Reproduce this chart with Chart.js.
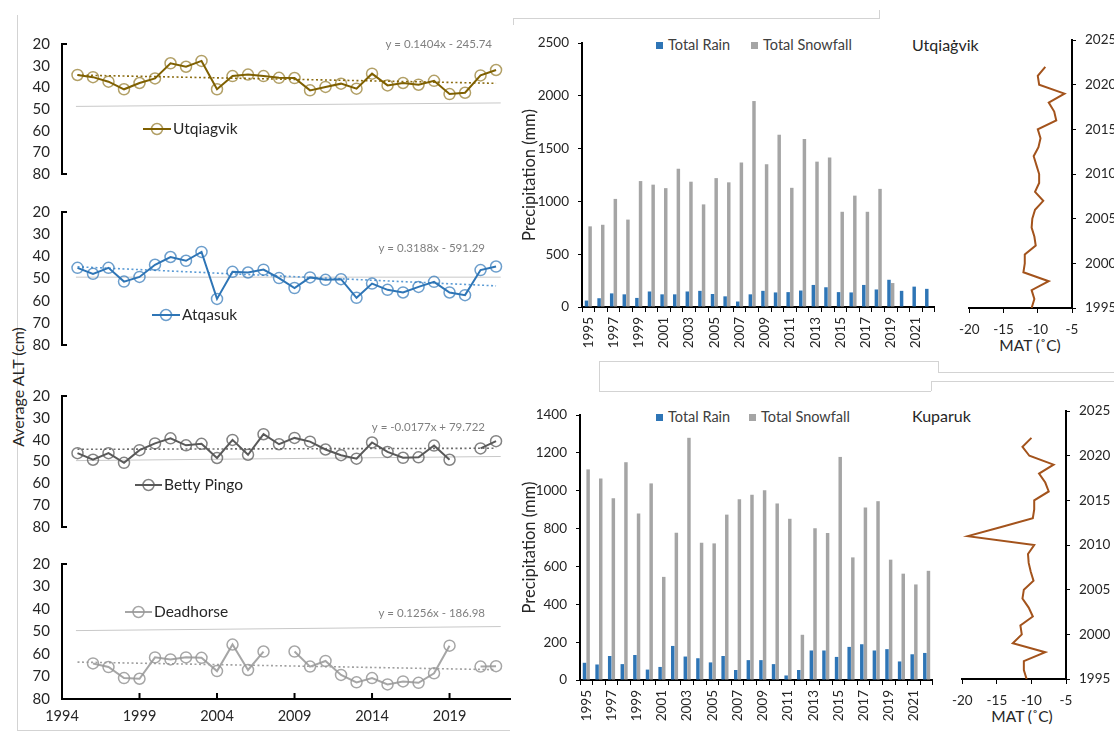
<!DOCTYPE html>
<html lang="en">
<head>
<meta charset="utf-8">
<title>Active layer thickness, precipitation and mean annual temperature</title>
<script src="https://cdn.jsdelivr.net/npm/chart.js@4.4.1/dist/chart.umd.min.js"></script>
<style>
  html, body { margin: 0; padding: 0; background: #fff; }
  body { position: relative; width: 1114px; height: 733px; overflow: hidden;
         font-family: Lato, "Open Sans", sans-serif; color: #404040; }
  canvas { position: absolute; }
  .rule { position: absolute; background: #d3d3d3; }
  .txt { position: absolute; white-space: nowrap; line-height: 1; transform: translateY(-50%); }
  .ctr { position: absolute; white-space: nowrap; line-height: 1; transform: translate(-50%, -50%); }
  .sw { position: absolute; width: 7px; height: 7px; }
</style>
</head>
<body>

<!-- panel frames -->
<div class="rule" style="left:17px;top:15px;width:1px;height:715px"></div>
<div class="rule" style="left:17px;top:730px;width:493px;height:1px"></div>
<div class="rule" style="left:513px;top:18px;width:366px;height:1px"></div>
<div class="rule" style="left:879px;top:10px;width:1px;height:9px"></div>
<div class="rule" style="left:513px;top:18px;width:1px;height:7px"></div>
<div class="rule" style="left:599px;top:361px;width:339px;height:1px"></div>
<div class="rule" style="left:599px;top:361px;width:1px;height:30px"></div>
<div class="rule" style="left:599px;top:391px;width:332px;height:1px"></div>
<div class="rule" style="left:938px;top:361px;width:1px;height:11px"></div>
<div class="rule" style="left:938px;top:372px;width:176px;height:1px"></div>
<div class="rule" style="left:931px;top:381px;width:1px;height:10px"></div>
<div class="rule" style="left:931px;top:381px;width:183px;height:1px"></div>

<!-- shared axis title of the ALT stack -->
<div class="ctr" style="left:18px;top:387px;font-size:16px;color:#262626;transform:translate(-50%,-50%) rotate(-90deg)">Average ALT (cm)</div>

<!-- precipitation keys and station names -->
<div class="sw" style="left:656px;top:42px;background:#2e75b6"></div>
<div class="txt" style="left:668px;top:45px;font-size:14.5px">Total Rain</div>
<div class="sw" style="left:751px;top:42px;background:#a5a5a5"></div>
<div class="txt" style="left:763px;top:45px;font-size:14.5px">Total Snowfall</div>
<div class="txt" style="left:912px;top:45px;font-size:16px;color:#262626">Utqiaġvik</div>

<div class="sw" style="left:656px;top:414px;background:#2e75b6"></div>
<div class="txt" style="left:668px;top:417px;font-size:14.5px">Total Rain</div>
<div class="sw" style="left:749px;top:414px;background:#a5a5a5"></div>
<div class="txt" style="left:761px;top:417px;font-size:14.5px">Total Snowfall</div>
<div class="txt" style="left:912px;top:416px;font-size:16px;color:#262626">Kuparuk</div>

<!-- temperature axis titles -->
<div class="ctr" style="left:1030px;top:346px;font-size:15.5px;color:#262626">MAT (˚C)</div>
<div class="ctr" style="left:1022px;top:717px;font-size:15.5px;color:#262626">MAT (˚C)</div>

<script>
// ---- data ----
const years = [1995, 1996, 1997, 1998, 1999, 2000, 2001, 2002, 2003, 2004, 2005, 2006, 2007, 2008,
               2009, 2010, 2011, 2012, 2013, 2014, 2015, 2016, 2017, 2018, 2019, 2020, 2021, 2022];
const precipYears = ['1995', '1996', '1997', '1998', '1999', '2000', '2001', '2002', '2003', '2004',
                     '2005', '2006', '2007', '2008', '2009', '2010', '2011', '2012', '2013', '2014',
                     '2015', '2016', '2017', '2018', '2019', '2020', '2021', '2022'];

// average active layer thickness (cm)
const altUtqiagvik = [34.3, 35.3, 37.4, 40.9, 38.0, 35.9, 28.9, 30.5, 27.8, 40.9, 34.8, 34.1, 34.8, 35.6,
                      35.7, 41.4, 39.8, 38.3, 40.6, 33.7, 39.1, 38.0, 38.8, 37.0, 43.1, 42.5, 34.5, 32.0];
const altAtqasuk = [45.2, 47.9, 45.2, 51.4, 49.3, 43.8, 40.3, 42.0, 38.0, 59.2, 47.0, 47.3, 46.0, 49.8,
                    54.3, 49.5, 50.6, 50.3, 58.7, 52.3, 55.1, 56.3, 53.8, 51.5, 56.3, 57.5, 46.2, 44.6];
const altBettyPingo = [46.2, 49.2, 46.2, 50.6, 44.8, 41.7, 39.4, 42.6, 41.9, 48.4, 40.1, 46.9, 37.5, 42.1,
                       39.2, 40.9, 44.5, 47.1, 48.7, 41.3, 45.6, 48.3, 48.1, 42.7, 49.2, null, 44.0, 40.7];
const altDeadhorse = [null, 64.2, 65.8, 70.7, 71.0, 61.5, 62.4, 61.5, 61.7, 67.6, 55.8, 67.1, 58.9, null,
                      58.9, 65.6, 63.1, 69.3, 72.6, 70.7, 73.5, 72.2, 72.8, 68.6, 56.3, null, 65.6, 65.4];

// linear trends [slope, intercept]
const trendUtqiagvik = [0.1404, -245.74];
const trendAtqasuk = [0.3188, -591.29];
const trendBettyPingo = [-0.0177, 79.722];
const trendDeadhorse = [0.1256, -186.98];

// reference depth line [start, end] (cm)
const refSpan = [1994.9, 2022.3];
const refUtqiagvik = [48.8, 47.2];
const refAtqasuk = [49.4, 49.4];
const refBettyPingo = [49.6, 47.7];
const refDeadhorse = [49.6, 47.8];

const altYearTicks = [1994, 1999, 2004, 2009, 2014, 2019];
const altDepthTicks = [20, 30, 40, 50, 60, 70, 80];

// annual precipitation (mm)
const rainUtqiagvik = [61, 83, 129, 120, 86, 147, 120, 120, 147, 153, 123, 101, 52, 120,
                       153, 138, 141, 156, 209, 187, 141, 138, 209, 166, 258, 153, 193, 172];
const snowUtqiagvik = [764, 779, 1024, 828, 1193, 1159, 1126, 1310, 1187, 972, 1221, 1181, 1368, 1951,
                       1353, 1632, 1129, 1592, 1377, 1417, 902, 1055, 902, 1119, 227, null, null, null];
const rainKuparuk = [91, 82, 127, 84, 132, 55, 69, 180, 124, 115, 93, 127, 53, 105,
                     105, 84, 24, 53, 156, 156, 122, 175, 189, 156, 163, 98, 136, 143];
const snowKuparuk = [1113, 1065, 960, 1151, 880, 1039, 545, 778, 1280, 725, 722, 874, 955, 979,
                     1003, 933, 852, 239, 802, 777, 1179, 648, 912, 945, 636, 562, 505, 577];
const precipTicksUtqiagvik = [0, 500, 1000, 1500, 2000, 2500];
const precipTicksKuparuk = [0, 200, 400, 600, 800, 1000, 1200, 1400];

// mean annual air temperature (°C)
const matUtqiagvik = [-10.9, -10.5, -10.9, -8.4, -12.1, -11.9, -11.9, -10.3, -10.5, -10.9, -10.8, -10.4, -9.2, -10.4,
                      -9.8, -9.8, -10.2, -10.6, -9.9, -9.6, -10.0, -7.3, -7.6, -8.4, -6.1, -9.8, -10.0, -8.9];
const matKuparuk = [-10.7, -11.1, -11.1, -8.0, -12.7, -11.4, -11.6, -9.8, -10.4, -11.3, -11.1, -9.7, -10.1, -10.4,
                    -10.5, -9.6, -19.2, -14.5, -9.8, -9.6, -9.6, -7.5, -8.0, -8.9, -6.8, -10.3, -11.3, -10.0];
const matTicks = [-20, -15, -10, -5];
const matYearTicks = [1995, 2000, 2005, 2010, 2015, 2020, 2025];

// ---- defaults ----
Chart.defaults.font.family = 'Lato, "Open Sans", sans-serif';
Chart.defaults.color = '#404040';
Chart.defaults.animation = false;
Chart.defaults.responsive = false;
Chart.defaults.devicePixelRatio = 1;
Chart.defaults.plugins.legend.display = false;
Chart.defaults.plugins.tooltip.enabled = false;

// short inward stubs on the ALT axes
const axisMarks = {
  id: 'axisMarks',
  afterDraw(chart, args, o) {
    if (!o.on) return;
    const { ctx, chartArea: a, scales } = chart;
    ctx.save();
    ctx.strokeStyle = '#000';
    ctx.lineWidth = 2;
    [a.top, a.bottom].forEach(y => {
      ctx.beginPath(); ctx.moveTo(a.left, y); ctx.lineTo(a.left + 5, y); ctx.stroke();
    });
    if (o.xInward) {
      scales.x.ticks.forEach(t => {
        const x = scales.x.getPixelForValue(t.value);
        ctx.beginPath(); ctx.moveTo(x, a.bottom); ctx.lineTo(x, a.bottom - 6); ctx.stroke();
      });
    }
    ctx.restore();
  }
};

// station key and trend equation inside each ALT plot
const siteKey = {
  id: 'siteKey',
  afterDatasetsDraw(chart, args, o) {
    if (!o.text) return;
    const ctx = chart.ctx;
    ctx.save();
    ctx.strokeStyle = o.line; ctx.lineWidth = 2;
    ctx.beginPath(); ctx.moveTo(o.x, o.y); ctx.lineTo(o.x + o.len, o.y); ctx.stroke();
    ctx.strokeStyle = o.ring; ctx.lineWidth = 1.5;
    ctx.beginPath(); ctx.arc(o.x + o.len / 2, o.y, 5.5, 0, Math.PI * 2); ctx.stroke();
    ctx.fillStyle = '#262626'; ctx.font = '15.5px Lato, "Open Sans", sans-serif';
    ctx.textBaseline = 'middle'; ctx.textAlign = 'left';
    ctx.fillText(o.text, o.x + o.len + 2, o.y);
    ctx.fillStyle = '#7f7f7f'; ctx.font = '11.5px Lato, "Open Sans", sans-serif';
    ctx.textAlign = 'right';
    ctx.fillText(o.eq, o.eqX, o.eqY);
    ctx.restore();
  }
};
Chart.register(axisMarks, siteKey);

function makeCanvas(left, top, w, h) {
  const c = document.createElement('canvas');
  c.width = w; c.height = h;
  c.style.left = left + 'px'; c.style.top = top + 'px';
  document.body.appendChild(c);
  return c;
}

function equation(t) {
  const b = t[1];
  return 'y = ' + t[0] + 'x ' + (b < 0 ? '- ' : '+ ') + Math.abs(b);
}

// ---- ALT stack ----
const altTop = [35, 203, 387, 555];
const altBottom = [183, 354, 536, 699];
const sites = [
  { name: 'Utqiagvik', values: altUtqiagvik, trend: trendUtqiagvik, ref: refUtqiagvik,
    line: '#7f6000', ring: 'rgba(127,96,0,0.6)', trendColor: '#8c6d12',
    key: [143, 129, 28], eq: [492, 44] },
  { name: 'Atqasuk', values: altAtqasuk, trend: trendAtqasuk, ref: refAtqasuk,
    line: '#2e75b6', ring: 'rgba(46,117,182,0.7)', trendColor: '#5b9bd5',
    key: [152, 315, 28], eq: [485, 248] },
  { name: 'Betty Pingo', values: altBettyPingo, trend: trendBettyPingo, ref: refBettyPingo,
    line: '#595959', ring: 'rgba(89,89,89,0.75)', trendColor: '#6f6f6f',
    key: [135, 485, 27], eq: [485, 427] },
  { name: 'Deadhorse', values: altDeadhorse, trend: trendDeadhorse, ref: refDeadhorse,
    line: '#a6a6a6', ring: 'rgba(150,150,150,0.85)', trendColor: '#a0a0a0',
    key: [125, 612, 27], eq: [485, 613] }
];

sites.forEach((site, k) => {
  const y0 = altTop[k], y1 = altBottom[k], last = k === 3;
  const xH = last ? 34 : 0;
  const top = y0 - 12;
  const cv = makeCanvas(0, top, 520, y1 - y0 + 12 + (last ? xH : 12));
  const [m, b] = site.trend;
  const first = years[0], end = years[years.length - 1];
  new Chart(cv, {
    type: 'line',
    data: {
      datasets: [
        { data: years.map((yr, i) => ({ x: yr, y: site.values[i] })),
          borderColor: site.line, borderWidth: 2, pointRadius: 5.5, pointBorderWidth: 1.5,
          pointBorderColor: site.ring, pointBackgroundColor: 'rgba(255,255,255,0)',
          spanGaps: false, order: 0 },
        { data: [{ x: first, y: m * first + b }, { x: end, y: m * end + b }],
          borderColor: site.trendColor, borderWidth: 1.6, borderDash: [2, 2.5], pointRadius: 0, order: 1 },
        { data: [{ x: refSpan[0], y: site.ref[0] }, { x: refSpan[1], y: site.ref[1] }],
          borderColor: '#c8c8c8', borderWidth: 1, pointRadius: 0, order: 2 }
      ]
    },
    options: {
      layout: { padding: { left: 0, top: 12, right: 10, bottom: last ? 0 : 12 } },
      scales: {
        x: {
          type: 'linear', min: 1994, max: 2022.9, display: last,
          afterBuildTicks: s => { s.ticks = altYearTicks.map(v => ({ value: v })); },
          afterFit: s => { s.height = xH; },
          grid: { display: false, drawTicks: false },
          border: { display: true, color: '#000', width: 2 },
          ticks: { padding: 9, color: '#262626', font: { size: 14.5 }, callback: v => String(v) }
        },
        y: {
          type: 'linear', reverse: true, min: 20, max: 80,
          afterBuildTicks: s => { s.ticks = altDepthTicks.map(v => ({ value: v })); },
          afterFit: s => { s.width = 62; },
          grid: { display: false, drawTicks: false },
          border: { display: true, color: '#000', width: 2 },
          ticks: { padding: 12, color: '#262626', font: { size: 15 }, callback: v => String(v) }
        }
      },
      plugins: {
        axisMarks: { on: true, xInward: last },
        siteKey: { text: site.name, line: site.line, ring: site.ring,
                   x: site.key[0], y: site.key[1] - top, len: site.key[2],
                   eq: equation(site.trend), eqX: site.eq[0], eqY: site.eq[1] - top }
      }
    }
  });
});

// ---- precipitation bars ----
function precipPanel(cfg) {
  const cv = makeCanvas(520, cfg.top - 10, cfg.width, cfg.bottom - cfg.top + 10 + 45);
  new Chart(cv, {
    type: 'bar',
    data: {
      labels: precipYears,
      datasets: [
        { label: 'Total Rain', data: cfg.rain, backgroundColor: '#2e75b6' },
        { label: 'Total Snowfall', data: cfg.snow, backgroundColor: '#a5a5a5' }
      ]
    },
    options: {
      datasets: { bar: { categoryPercentage: 0.58, barPercentage: 0.95 } },
      layout: { padding: { left: 0, top: 10, right: 10, bottom: 0 } },
      scales: {
        x: {
          grid: { display: true, drawOnChartArea: false, drawTicks: true, tickLength: 5,
                  color: '#000', lineWidth: 1, offset: true },
          border: { color: '#000', width: 2 },
          ticks: { autoSkip: false, minRotation: 90, maxRotation: 90, padding: 5,
                   color: '#262626', font: { size: 13.5 },
                   callback(v, i) { return i % 2 === 0 ? this.getLabelForValue(v) : ''; } },
          afterFit: s => { s.height = 45; }
        },
        y: {
          min: 0, max: cfg.ticks[cfg.ticks.length - 1],
          afterBuildTicks: s => { s.ticks = cfg.ticks.map(v => ({ value: v })); },
          grid: { display: true, drawOnChartArea: false, tickLength: 4, color: '#000' },
          border: { color: '#000', width: 2 },
          ticks: { padding: 9, color: '#262626', font: { size: 13.5 }, callback: v => String(v) },
          title: { display: true, text: 'Precipitation (mm)', color: '#262626',
                   font: { size: 16.5 }, padding: 0 },
          afterFit: s => { s.width = cfg.axisW; }
        }
      }
    }
  });
}
precipPanel({ top: 36, bottom: 307, width: 430, axisW: 62,
              rain: rainUtqiagvik, snow: snowUtqiagvik, ticks: precipTicksUtqiagvik });
precipPanel({ top: 408, bottom: 680, width: 428, axisW: 60,
              rain: rainKuparuk, snow: snowKuparuk, ticks: precipTicksKuparuk });

// ---- mean annual temperature profiles ----
function matPanel(cfg) {
  const cv = makeCanvas(cfg.left, cfg.top - 10, cfg.width, cfg.bottom - cfg.top + 10 + 30);
  new Chart(cv, {
    type: 'line',
    data: {
      datasets: [{ data: years.map((yr, i) => ({ x: cfg.values[i], y: yr })),
                   borderColor: '#a3531c', borderWidth: 2, pointRadius: 0, tension: 0 }]
    },
    options: {
      indexAxis: 'y',
      layout: { padding: { left: cfg.padL, top: 10, right: 0, bottom: 0 } },
      scales: {
        x: {
          type: 'linear', min: -20, max: -5,
          afterBuildTicks: s => { s.ticks = matTicks.map(v => ({ value: v })); },
          grid: { drawOnChartArea: false, tickLength: 5, color: '#000' },
          border: { color: '#000', width: 2 },
          ticks: { padding: 9, color: '#262626', font: { size: 13.5 }, callback: v => String(v) },
          afterFit: s => { s.height = 30; }
        },
        y: {
          type: 'linear', position: 'right', min: 1995, max: 2025,
          afterBuildTicks: s => { s.ticks = matYearTicks.map(v => ({ value: v })); },
          grid: { drawOnChartArea: false, tickLength: 4, color: '#000' },
          border: { color: '#000', width: 2 },
          ticks: { padding: 9, color: '#262626', font: { size: 13.5 }, callback: v => String(v) },
          afterFit: s => { s.width = cfg.axisW; }
        }
      }
    }
  });
}
matPanel({ left: 950, top: 33, bottom: 308, width: 164, padL: 14, axisW: 42, values: matUtqiagvik });
matPanel({ left: 943, top: 404, bottom: 679, width: 171, padL: 14, axisW: 48, values: matKuparuk });
</script>
</body>
</html>
